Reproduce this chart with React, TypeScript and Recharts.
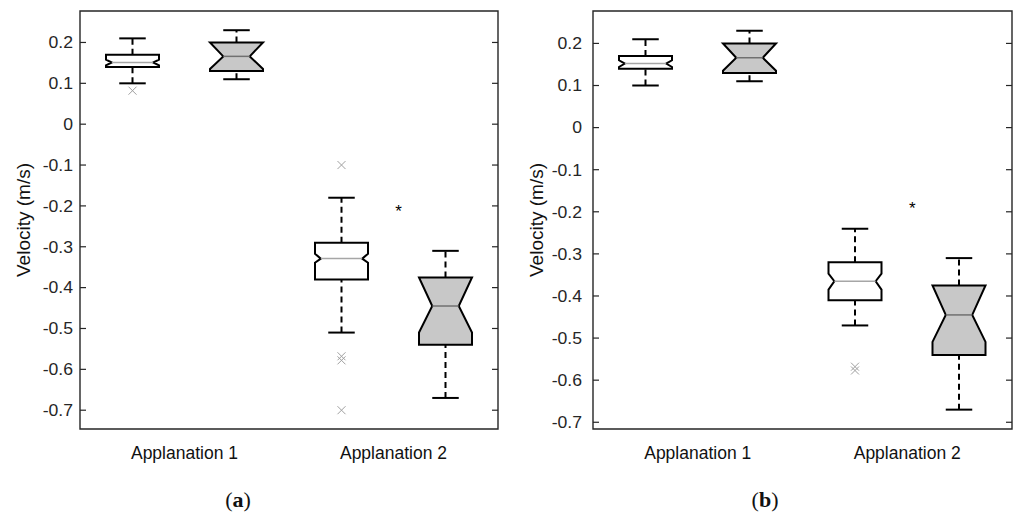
import React from "react";
import { ComposedChart, Bar, XAxis, YAxis, ReferenceDot, ReferenceArea } from "recharts";

const categories = ["Applanation 1", "Applanation 2"];
const yTicks = [-0.7, -0.6, -0.5, -0.4, -0.3, -0.2, -0.1, 0, 0.1, 0.2];

// [lower whisker, q1, notch low, median, notch high, q3, upper whisker]
const aWhiteStats = [
  [0.1, 0.14, 0.144, 0.151, 0.158, 0.17, 0.21],
  [-0.51, -0.38, -0.339, -0.329, -0.317, -0.29, -0.18],
];
const aWhiteOutliers = [[0.082], [-0.1, -0.568, -0.578, -0.7]];
const aGrayStats = [
  [0.11, 0.13, 0.135, 0.166, 0.2, 0.2, 0.23],
  [-0.67, -0.54, -0.51, -0.445, -0.375, -0.375, -0.31],
];
const aGrayOutliers = [[], []];

const bWhiteStats = [
  [0.1, 0.14, 0.144, 0.152, 0.16, 0.17, 0.21],
  [-0.47, -0.41, -0.385, -0.365, -0.347, -0.32, -0.24],
];
const bWhiteOutliers = [[], [-0.568, -0.577]];
const bGrayStats = [
  [0.11, 0.13, 0.135, 0.166, 0.2, 0.2, 0.23],
  [-0.67, -0.54, -0.509, -0.445, -0.375, -0.375, -0.31],
];
const bGrayOutliers = [[], []];

const aDomain = [-0.746, 0.277];
const bDomain = [-0.716, 0.277];
const aStar = -0.205;
const bStar = -0.185;

const AXIS = "#262626";
const FONT = "'Liberation Sans', Arial, sans-serif";

function buildRows(ws: number[][], wo: number[][], gs: number[][], go: number[][]) {
  return categories.map((cat, i) => ({
    cat,
    white: [ws[i][0], ws[i][6]],
    gray: [gs[i][0], gs[i][6]],
    whiteStats: ws[i],
    grayStats: gs[i],
    whiteOut: wo[i],
    grayOut: go[i],
  }));
}

function NotchBox(props: any) {
  const { x, y, width, height, payload, statsKey, outKey, fill, medianColor, notchFrac } = props;
  const s = payload[statsKey];
  const out: number[] = payload[outKey] || [];
  const [lo, q1, nlo, med, nhi, q3, hi] = s;
  const top = Math.min(y, y + height);
  const bot = Math.max(y, y + height);
  const py = (v: number) => top + ((hi - v) / (hi - lo)) * (bot - top);
  const l = x;
  const r = x + width;
  const cx = x + width / 2;
  const inset = width * notchFrac;
  const pts = [
    [l, py(q3)],
    [r, py(q3)],
    [r, py(nhi)],
    [r - inset, py(med)],
    [r, py(nlo)],
    [r, py(q1)],
    [l, py(q1)],
    [l, py(nlo)],
    [l + inset, py(med)],
    [l, py(nhi)],
  ]
    .map((p) => p.join(","))
    .join(" ");
  const cap = width / 4;
  return (
    <g>
      <line x1={cx} x2={cx} y1={py(q3)} y2={py(hi)} stroke="#000" strokeWidth={2} strokeDasharray="6 4" />
      <line x1={cx} x2={cx} y1={py(lo)} y2={py(q1)} stroke="#000" strokeWidth={2} strokeDasharray="6 4" />
      <line x1={cx - cap} x2={cx + cap} y1={py(hi)} y2={py(hi)} stroke="#000" strokeWidth={2} />
      <line x1={cx - cap} x2={cx + cap} y1={py(lo)} y2={py(lo)} stroke="#000" strokeWidth={2} />
      <polygon points={pts} fill={fill} stroke="#000" strokeWidth={2} strokeLinejoin="miter" />
      <line x1={l + inset} x2={r - inset} y1={py(med)} y2={py(med)} stroke={medianColor} strokeWidth={1.5} />
      {out.map((o, k) => (
        <g key={k} stroke="#a0a0a0" strokeWidth={1}>
          <line x1={cx - 4} x2={cx + 4} y1={py(o) - 4} y2={py(o) + 4} />
          <line x1={cx - 4} x2={cx + 4} y1={py(o) + 4} y2={py(o) - 4} />
        </g>
      ))}
    </g>
  );
}

const fmt = (v: number) => (v === 0 ? "0" : String(Number(v.toFixed(1))));

function LeftTick(props: any) {
  const { x, y, payload, gap, plotWidth } = props;
  const ax = x + gap;
  return (
    <g>
      <line x1={ax} x2={ax + 6} y1={y} y2={y} stroke={AXIS} strokeWidth={1.2} />
      <line x1={ax + plotWidth - 6} x2={ax + plotWidth} y1={y} y2={y} stroke={AXIS} strokeWidth={1.2} />
      <text
        transform={`translate(${x},${y}) scale(1.08,1)`}
        textAnchor="end"
        dy="0.36em"
        fontSize={16.3}
        fontFamily={FONT}
        fill={AXIS}
      >
        {fmt(payload.value)}
      </text>
    </g>
  );
}

function BottomTick(props: any) {
  const { x, y, payload } = props;
  return (
    <text x={x} y={y} textAnchor="middle" dy="0.72em" fontSize={17.5} fontFamily={FONT} fill="#111">
      {payload.value}
    </text>
  );
}

function YLabel(props: any) {
  const vb = props.viewBox || {};
  const cx = (vb.x || 0) + 23;
  const cy = (vb.y || 0) + (vb.height || 0) / 2;
  return (
    <text
      transform={`translate(${cx},${cy}) rotate(-90)`}
      textAnchor="middle"
      dy="0.35em"
      fontSize={19}
      fontFamily={FONT}
      fill="#111"
    >
      Velocity (m/s)
    </text>
  );
}

function Star(props: any) {
  const { cx, cy } = props;
  return (
    <text x={cx + 5} y={cy + 9} textAnchor="middle" fontSize={17} fontFamily={FONT} fill="#000">
      *
    </text>
  );
}

function Panel({
  rows,
  domain,
  star,
  width,
  rightMargin,
  gap,
}: {
  rows: any[];
  domain: number[];
  star: number;
  width: number;
  rightMargin: number;
  gap: number;
}) {
  const plotWidth = width - 80 - rightMargin;
  return (
    <ComposedChart
      width={width}
      height={523}
      data={rows}
      margin={{ top: 11, right: rightMargin, left: 0, bottom: 54 }}
      barSize={53}
      barGap={51}
      barCategoryGap={0}
    >
      <XAxis
        dataKey="cat"
        type="category"
        height={40}
        tickLine={false}
        tickSize={0}
        tickMargin={17}
        axisLine={false}
        tick={<BottomTick />}
        interval={0}
      />
      <YAxis
        type="number"
        domain={domain}
        ticks={yTicks}
        allowDataOverflow
        width={80}
        tickLine={false}
        tickSize={0}
        tickMargin={gap}
        axisLine={false}
        tick={<LeftTick gap={gap} plotWidth={plotWidth} />}
        interval={0}
        label={<YLabel />}
      />
      <ReferenceArea
        y1={domain[0]}
        y2={domain[1]}
        fill="none"
        fillOpacity={0}
        stroke={AXIS}
        strokeWidth={1.4}
        ifOverflow="visible"
      />
      <Bar
        dataKey="white"
        isAnimationActive={false}
        shape={(p: any) => (
          <NotchBox {...p} statsKey="whiteStats" outKey="whiteOut" fill="#ffffff" medianColor="#a6a6a6" notchFrac={0.11} />
        )}
      />
      <Bar
        dataKey="gray"
        isAnimationActive={false}
        shape={(p: any) => (
          <NotchBox {...p} statsKey="grayStats" outKey="grayOut" fill="#c8c8c8" medianColor="#707070" notchFrac={0.25} />
        )}
      />
      <ReferenceDot x="Applanation 2" y={star} r={0} ifOverflow="visible" shape={<Star />} />
    </ComposedChart>
  );
}

const labelStyle: React.CSSProperties = {
  position: "absolute",
  top: 487,
  fontFamily: "'Liberation Serif', 'DejaVu Serif', serif",
  fontSize: 22,
  color: "#111",
  transform: "translateX(-50%)",
  whiteSpace: "nowrap",
};

export default function App() {
  const aRows = buildRows(aWhiteStats, aWhiteOutliers, aGrayStats, aGrayOutliers);
  const bRows = buildRows(bWhiteStats, bWhiteOutliers, bGrayStats, bGrayOutliers);
  return (
    <div style={{ position: "absolute", left: 0, top: 0, width: 1014, height: 523, background: "#fff" }}>
      <div style={{ position: "absolute", left: 0, top: 0 }}>
        <Panel rows={aRows} domain={aDomain} star={aStar} width={505} rightMargin={7} gap={7} />
      </div>
      <div style={{ position: "absolute", left: 513, top: 0 }}>
        <Panel rows={bRows} domain={bDomain} star={bStar} width={501} rightMargin={2} gap={11} />
      </div>
      <div style={{ ...labelStyle, left: 238 }}>
        (<b>a</b>)
      </div>
      <div style={{ ...labelStyle, left: 765 }}>
        (<b>b</b>)
      </div>
    </div>
  );
}
